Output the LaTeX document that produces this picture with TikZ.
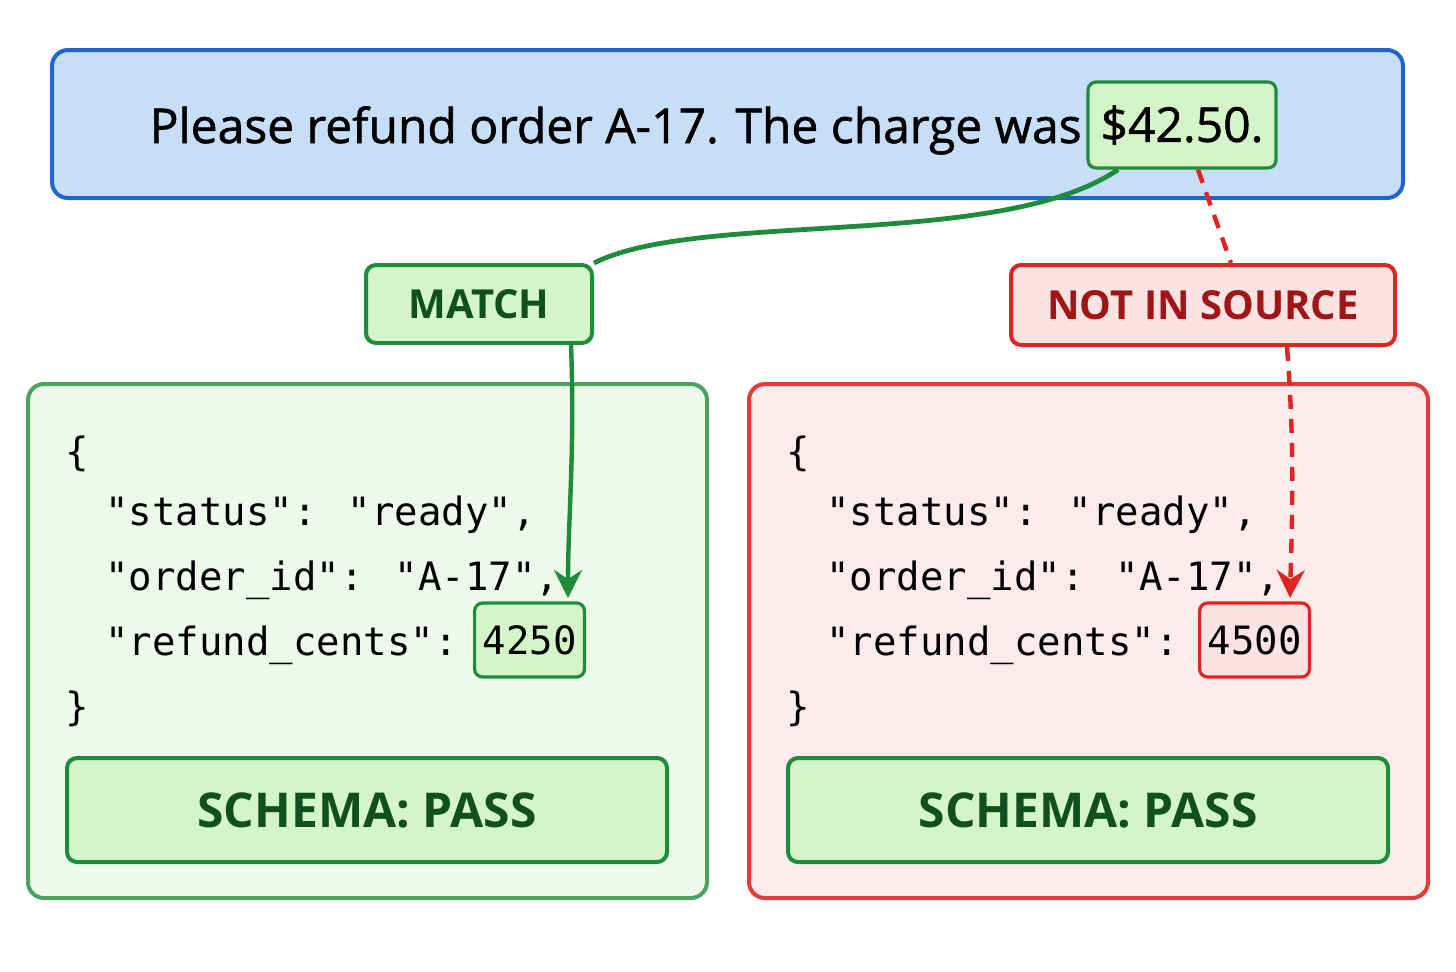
\documentclass[tikz,border=0pt]{standalone}
\usepackage{fontspec}
\setmainfont{Open Sans}
\newfontfamily\jsonfont{DejaVu Sans Mono}
\usetikzlibrary{arrows.meta,positioning}
\definecolor{srcblue}{HTML}{1F66CC}
\definecolor{srcfill}{HTML}{C6DEF8}
\definecolor{okgreen}{HTML}{1E8C3A}
\definecolor{okfill}{HTML}{D4F5C8}
\definecolor{okpanel}{HTML}{EDFAEB}
\definecolor{okdark}{HTML}{10501F}
\definecolor{badred}{HTML}{E02424}
\definecolor{badfill}{HTML}{FCE3E3}
\definecolor{badpanel}{HTML}{FCEBEC}
\definecolor{baddark}{HTML}{A01515}
\tikzset{
    box/.style={draw, rounded corners=8pt, line width=2pt},
    tag/.style={box, rounded corners=5pt, inner sep=0pt, font=\bfseries\fontsize{20}{24}\selectfont},
    json/.style={anchor=base west, inner sep=0pt, font=\jsonfont\fontsize{19.5}{24}\selectfont},
    hit/.style={draw, rounded corners=4pt, line width=1.6pt, inner sep=4pt, font=\jsonfont\fontsize{19.5}{24}\selectfont},
    link/.style={line width=2.2pt, -{Stealth[length=14pt,width=14pt]}}
}
\begin{document}
\begin{tikzpicture}[x=0.5pt, y=-0.5pt]
\useasboundingbox (0,0) rectangle (1456,971);

% Source sentence
\draw[box, draw=srcblue, fill=srcfill] (52,50) rectangle (1403,198);
\node (sentence) [anchor=base east, inner sep=0pt, font=\addfontfeature{FakeBold=1.2}\fontsize{24}{28}\selectfont] at (1082,143) {Please refund order A-17. The charge was};
\node (amount) [hit, draw=okgreen, fill=okfill, minimum width=94pt, minimum height=43pt, font=\addfontfeature{FakeBold=1.2}\fontsize{24}{28}\selectfont] at (1182,125) {\$42.50.};

% Labels
\node (match) [tag, draw=okgreen, fill=okfill, text=okdark, minimum width=113pt, minimum height=39pt] at (479,304) {MATCH};
\node (nosrc) [tag, draw=badred, fill=badfill, text=baddark, minimum width=192pt, minimum height=40pt] at (1203,305) {NOT IN SOURCE};

% Panels
\draw[box, draw=okgreen!80, fill=okpanel] (28,384) rectangle (707,898);
\draw[box, draw=badred!90, fill=badpanel] (749,384) rectangle (1428,898);

% JSON, left
\node (lopen) [json] at (65,465) {\{};
\node (lstat) [json] at (105,525) {"status": "ready",};
\node (lord) [json] at (105,590) {"order\_id": "A-17",};
\node (lref) [json] at (105,655) {"refund\_cents":};
\node (lval) [hit, draw=okgreen, fill=okfill, anchor=west, minimum height=37pt] at (473,640) {4250};
\node (lclose) [json] at (65,720) {\}};

% JSON, right
\node (ropen) [json] at (786,465) {\{};
\node (rstat) [json] at (826,525) {"status": "ready",};
\node (rord) [json] at (826,590) {"order\_id": "A-17",};
\node (rref) [json] at (826,655) {"refund\_cents":};
\node (rval) [hit, draw=badred, fill=badfill, anchor=west, minimum height=37pt] at (1198,640) {4500};
\node (rclose) [json] at (786,720) {\}};

% Schema results
\node (lpass) [tag, draw=okgreen, fill=okfill, text=okdark, minimum width=300pt, minimum height=52pt, font=\bfseries\fontsize{24}{28}\selectfont] at (367,810) {SCHEMA: PASS};
\node (rpass) [tag, draw=okgreen, fill=okfill, text=okdark, minimum width=300pt, minimum height=52pt, font=\bfseries\fontsize{24}{28}\selectfont] at (1088,810) {SCHEMA: PASS};

% Connectors
\draw[line width=2.4pt, okgreen] ([xshift=-32pt]amount.south) .. controls (1000,250) and (700,210) .. (match.north east);
\draw[link, okgreen] ([xshift=46pt]match.south) .. controls (575,450) and (568,520) .. (568,598);
\draw[line width=2.2pt, badred, dashed, dash pattern=on 7pt off 5pt] ([xshift=8pt]amount.south) -- ([xshift=14pt]nosrc.north);
\draw[link, badred, dashed, dash pattern=on 7pt off 5pt] ([xshift=42pt]nosrc.south) .. controls (1295,450) and (1292,520) .. (1290,598);
\end{tikzpicture}
\end{document}
